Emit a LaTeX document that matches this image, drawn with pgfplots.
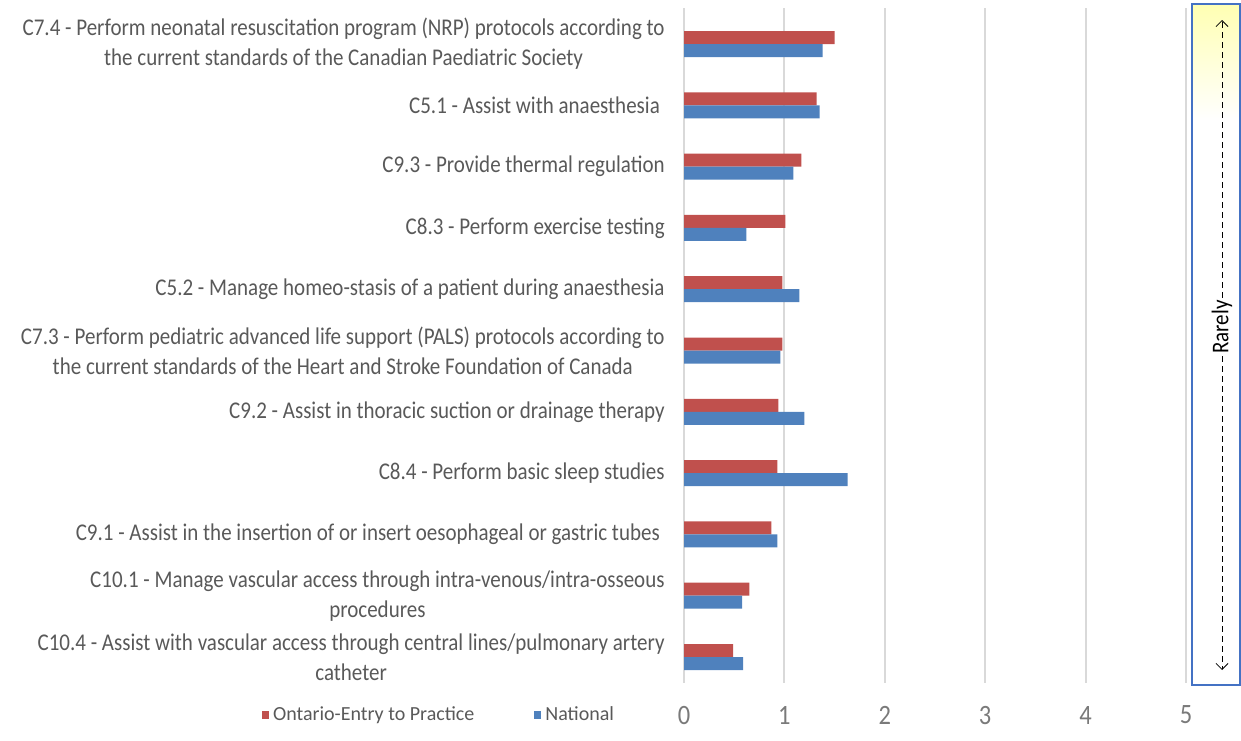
\documentclass[border=0pt]{standalone}
\usepackage{pgfplots}
\pgfplotsset{compat=1.18}
\usepackage{fontspec}
\setmainfont[FakeStretch=0.875]{Carlito}
\newfontfamily\legfont{Carlito}
\usetikzlibrary{arrows.meta}

\definecolor{ontred}{HTML}{C0504D}
\definecolor{natblue}{HTML}{4F81BD}
\definecolor{labgray}{HTML}{595959}
\definecolor{gridgray}{HTML}{D9D9D9}
\definecolor{boxblue}{HTML}{4472C4}

\begin{document}
\begin{tikzpicture}
% page frame, 1 px of the reference = 0.5pt
\path[use as bounding box] (0pt,0pt) rectangle (620.5pt,-370pt);

\begin{axis}[
  at={(342pt,-341.5pt)}, anchor=south west,
  scale only axis,
  width=251pt, height=337.5pt,
  xbar, bar width=6.5pt,
  xmin=0, xmax=5,
  ymin=-0.587, ymax=10.424,
  y dir=reverse,
  xtick={0,1,2,3,4,5},
  ytick={0,...,10},
  major tick length=0pt,
  axis line style={draw=none},
  xmajorgrids,
  grid style={gridgray, line width=1pt},
  /pgf/number format/assume math mode=true,
  xticklabel style={font=\fontsize{14}{14}\selectfont, text=labgray!80, anchor=center, yshift=-16pt},
  yticklabel style={font=\fontsize{12}{15}\selectfont, text=labgray, align=center, inner sep=0pt, xshift=-9.5pt},
  yticklabels={
    {C7.4 - Perform neonatal resuscitation program (NRP) protocols according to\\the current standards of the Canadian Paediatric Society},
    {C5.1 - Assist with anaesthesia\ },
    {C9.3 - Provide thermal regulation},
    {C8.3 - Perform exercise testing},
    {C5.2 - Manage homeo-stasis of a patient during anaesthesia},
    {C7.3 - Perform pediatric advanced life support (PALS) protocols according to\\the current standards of the Heart and Stroke Foundation of Canada},
    {C9.2 - Assist in thoracic suction or drainage therapy},
    {C8.4 - Perform basic sleep studies},
    {C9.1 - Assist in the insertion of or insert oesophageal or gastric tubes\ },
    {C10.1 - Manage vascular access through intra-venous/intra-osseous\\procedures},
    {C10.4 - Assist with vascular access through central lines/pulmonary artery\\catheter}
  },
  legend columns=2,
  legend style={at={(-0.486,-0.047)}, anchor=center, draw=none, fill=none,
    font=\legfont\fontsize{10}{10}\selectfont, text=labgray,
    /tikz/every even column/.append style={column sep=28pt}},
  legend image code/.code={\fill[#1] (0pt,-2pt) rectangle (3.5pt,2pt);},
]
\addplot[draw=none, fill=ontred, bar shift=3.25pt] coordinates {
(1.50,0) (1.32,1) (1.17,2) (1.01,3) (0.98,4) (0.98,5)
(0.94,6) (0.93,7) (0.87,8) (0.65,9) (0.49,10)
};
\addlegendentry{Ontario-Entry to Practice}
\addplot[draw=none, fill=natblue, bar shift=-3.25pt] coordinates {
(1.38,0) (1.35,1) (1.09,2) (0.62,3) (1.15,4) (0.96,5)
(1.20,6) (1.63,7) (0.93,8) (0.58,9) (0.59,10)
};
\addlegendentry{National}
\end{axis}

% frequency scale box on the right
\shade[top color=yellow!30, bottom color=white] (596pt,-2pt) rectangle (620pt,-60pt);
\draw[boxblue, line width=0.6pt] (596pt,-2pt) rectangle (620pt,-342.5pt);
\node[rotate=90, font=\fontsize{12}{12}\selectfont, inner sep=1pt] (r) at (611pt,-163.5pt) {Rarely};
\draw[densely dashed, -{Straight Barb[length=3pt,width=6pt]}] (r.east) -- (611pt,-10pt);
\draw[densely dashed, -{Straight Barb[length=3pt,width=6pt]}] (r.west) -- (611pt,-335pt);
\end{tikzpicture}
\end{document}
